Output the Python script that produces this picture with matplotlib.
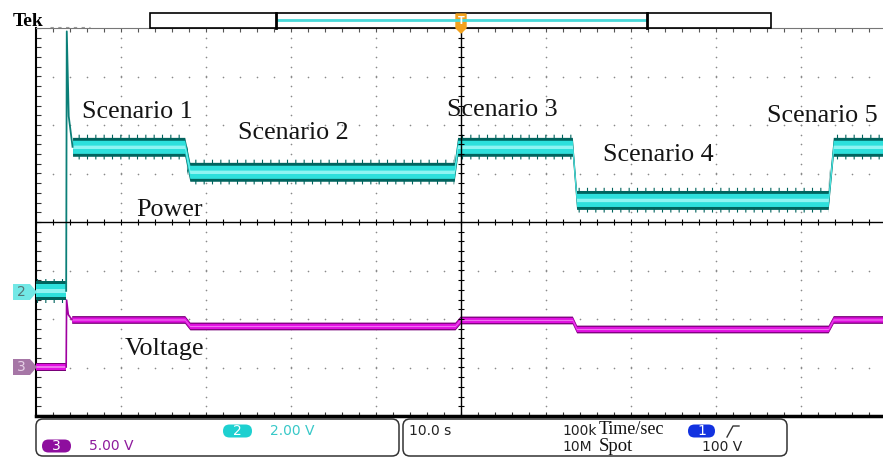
import numpy as np
import matplotlib.pyplot as plt
from matplotlib.patches import FancyBboxPatch, Polygon, Rectangle

W, H = 883, 458

# ---- trace data (time in s, 10 s/div) ----
# channel 2 (power probe), volts, 2 V/div
power_pre_t = [0, 3.55]
power_pre_v = [0, 0]
power_spike_t = [3.55, 3.62, 3.85, 4.3]
power_spike_v = [0, 10.7, 7.2, 5.94]
power_t = [4.3, 17.5, 18.1, 49.2, 49.6, 63.1, 63.6, 93.2, 93.8, 100]
power_v = [5.94, 5.94, 4.91, 4.91, 5.94, 5.94, 3.75, 3.75, 5.94, 5.94]

# channel 3 (voltage), volts, 5 V/div
volt_pre_t = [0, 3.55]
volt_pre_v = [0, 0]
volt_spike_t = [3.55, 3.6, 3.8, 4.2]
volt_spike_v = [0, 6.9, 5.4, 4.9]
volt_t = [4.2, 17.5, 18.1, 49.3, 49.9, 63.1, 63.6, 93.2, 93.8, 100]
volt_v = [4.9, 4.9, 4.23, 4.23, 4.85, 4.85, 3.92, 3.92, 4.9, 4.9]

labels = ["Scenario 1", "Scenario 2", "Scenario 3", "Scenario 4", "Scenario 5",
          "Power", "Voltage"]

# colours
CYAN = "#2ee0dc"
CYAN_LT = "#8ff4f2"
TEAL = "#00645e"
MAG = "#e010e0"
MAG_DK = "#780078"

fig = plt.figure(figsize=(W / 100, H / 100), dpi=100)

# screen graticule: x in seconds, y in divisions
ax = fig.add_axes([36 / W, 1 - 416 / H, 850 / W, 388 / H])
ax.set_xlim(0, 100)
ax.set_ylim(-4, 4)
ax.set_xticks([])
ax.set_yticks([])
ax.spines["right"].set_visible(False)
ax.spines["left"].set_linewidth(1.5)
ax.spines["bottom"].set_linewidth(2.5)
ax.spines["top"].set_color("#777777")

gx = np.arange(0, 100.01, 2)
gy = np.arange(-4, 4.01, 0.2)
for xv in [10, 20, 30, 40, 60, 70, 80, 90]:
    ax.scatter(np.full(gy.size, xv), gy, s=1.4, color="#8a8a8a", lw=0, zorder=1)
for yv in [-3, -2, -1, 1, 2, 3]:
    ax.scatter(gx, np.full(gx.size, yv), s=1.4, color="#8a8a8a", lw=0, zorder=1)
# border ticks
ax.vlines(gx, 4 - 0.09, 4, color="#555555", lw=0.8)
ax.vlines(gx, -4, -4 + 0.09, color="#333333", lw=0.8)
ax.hlines(gy, 0, 0.55, color="#333333", lw=0.8)

# channel axes
ax3 = ax.twinx()
ax3.set_ylim(-5.05, 34.95)
ax2 = ax.twinx()
ax2.set_ylim(-5.16, 10.84)
for a, z in [(ax3, 1), (ax2, 2)]:
    a.set_zorder(z)
    a.set_yticks([])
    for s in a.spines.values():
        s.set_visible(False)


def band(a, t, v, layers):
    v = np.asarray(v, dtype=float)
    for half, col in layers:
        a.fill_between(t, v - half, v + half, color=col, lw=0)


# voltage trace
vlay = [(0.4, MAG_DK), (0.27, MAG), (0.06, "#f070f0")]
band(ax3, volt_pre_t, volt_pre_v, vlay)
band(ax3, volt_t, volt_v, vlay)
ax3.plot(volt_spike_t, volt_spike_v, color="#a000a0", lw=1.2)

# power trace
plt.rcParams["hatch.linewidth"] = 0.8
for t, v in [(power_pre_t, power_pre_v), (power_t, power_v)]:
    v = np.asarray(v, dtype=float)
    ax2.fill_between(t, v + 0.34, v + 0.5, facecolor="none", edgecolor=TEAL,
                     hatch="||", lw=0)
    ax2.fill_between(t, v - 0.52, v - 0.34, facecolor="none", edgecolor=TEAL,
                     hatch="||", lw=0)
    band(ax2, t, v, [(0.39, TEAL), (0.27, CYAN), (0.07, CYAN_LT)])
ax2.plot(power_spike_t, power_spike_v, color="#0b7f78", lw=1.3)

# centre cross drawn over the traces
ax2.plot([0.5, 0.5], [0, 1], color="black", lw=1.0, transform=ax2.transAxes)
ax2.plot([0, 1], [0.5, 0.5], color="black", lw=1.0, transform=ax2.transAxes)
ax2.vlines(gx / 100, 0.5 - 0.008, 0.5 + 0.008, color="black", lw=0.8,
           transform=ax2.transAxes)
ax2.hlines((gy + 4) / 8, 0.5 - 0.004, 0.5 + 0.004, color="black", lw=0.8,
           transform=ax2.transAxes)

# ---- overlay in screen pixels for the scope furniture ----
ov = fig.add_axes([0, 0, 1, 1])
ov.set_xlim(0, W)
ov.set_ylim(H, 0)
ov.axis("off")
ov.set_zorder(5)

serif = "Liberation Serif"
sans = "DejaVu Sans"

label_xy = [(82, 118), (238, 139), (447, 116), (603, 161), (767, 122),
            (136, 216), (125, 355)]
for txt, (x, y) in zip(labels, label_xy):
    ov.text(x, y, txt, family=serif, fontsize=18.8, color="#141414",
            ha="left", va="baseline")

ov.text(13, 26, "Tek", family=serif, fontsize=14, fontweight="bold",
        ha="left", va="baseline")
ov.plot([50, 90], [27, 27], color="#999999", lw=0.8, ls=(0, (3, 4)))

# top record bar
ov.add_patch(Rectangle((150, 13), 621, 15, fc="white", ec="black", lw=1.2))
ov.plot([278, 646], [19.5, 19.5], color="#48d8d8", lw=2)
ov.plot([276, 276], [13, 28], color="black", lw=2)
ov.plot([647, 647], [13, 28], color="black", lw=2)
ov.add_patch(Polygon([(456, 14), (466, 14), (466, 28), (461, 33), (456, 28)],
                     closed=True, fc="#f2a21e", ec="#f2a21e"))
ov.text(461, 21, "T", color="white", fontsize=7, fontweight="bold",
        ha="center", va="center", family=sans)

# channel ground markers
ov.add_patch(Polygon([(13, 284), (30, 284), (37, 292), (30, 300), (13, 300)],
                     closed=True, fc="#72e8e6", ec="none"))
ov.text(21, 292, "2", color="#567676", fontsize=10, ha="center", va="center",
        family=sans)
ov.add_patch(Polygon([(13, 359), (30, 359), (37, 367), (30, 375), (13, 375)],
                     closed=True, fc="#a676a6", ec="none"))
ov.text(21, 367, "3", color="#e6d0e6", fontsize=10, ha="center", va="center",
        family=sans)

# status bar
for x0, x1 in [(36, 399), (403, 787)]:
    ov.add_patch(FancyBboxPatch((x0, 419), x1 - x0, 37,
                                boxstyle="round,pad=0,rounding_size=7",
                                fc="white", ec="#333333", lw=1.1))


def oval(x0, x1, yc, col, txt):
    ov.add_patch(FancyBboxPatch((x0, yc - 6.5), x1 - x0, 13,
                                boxstyle="round,pad=0,rounding_size=6.5",
                                fc=col, ec="none"))
    ov.text((x0 + x1) / 2, yc, txt, color="white", fontsize=10,
            ha="center", va="center", family=sans)


oval(223, 252, 431, "#1ed0d0", "2")
ov.text(270, 431, "2.00 V", color="#38c8c8", fontsize=10, va="center",
        family=sans)
oval(42, 71, 446, "#8e0e9e", "3")
ov.text(89, 446, "5.00 V", color="#8e1a9c", fontsize=10, va="center",
        family=sans)

ov.text(409, 431, "10.0 s", color="#222222", fontsize=10, va="center",
        family=sans)
ov.text(562, 431, "100k", color="#222222", fontsize=10, va="center",
        family=sans)
ov.text(562, 447, "10M", color="#222222", fontsize=10, va="center",
        family=sans)
ov.text(599, 434, "Time/sec", color="#111111", fontsize=13, va="baseline",
        family=serif)
ov.text(599, 451, "Spot", color="#111111", fontsize=13.5, va="baseline",
        family=serif)
oval(688, 715, 431, "#1232e0", "1")
ov.plot([727, 733, 739], [437, 426, 426], color="#333333", lw=1)
ov.text(702, 447, "100 V", color="#222222", fontsize=10, va="center",
        family=sans)

fig.savefig("out.png", dpi=100)
